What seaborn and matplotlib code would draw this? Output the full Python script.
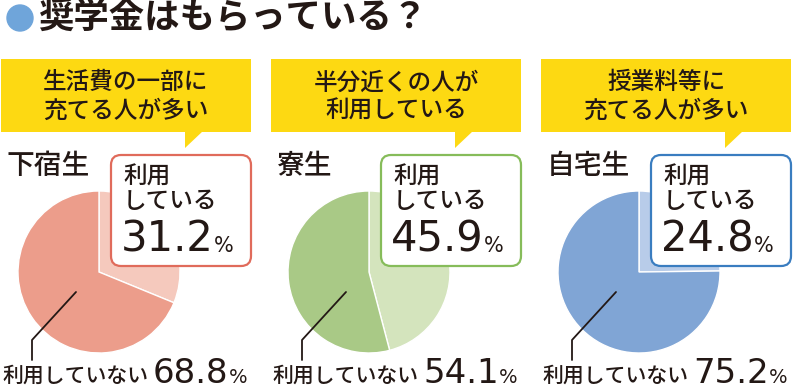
import matplotlib
matplotlib.use("Agg")
import matplotlib.pyplot as plt
from matplotlib.patches import FancyBboxPatch, Polygon, Circle, Rectangle
import seaborn as sns

# データ
groups = ["下宿生", "寮生", "自宅生"]
used = [31.2, 45.9, 24.8]
not_used = [68.8, 54.1, 75.2]
notes = ["生活費の一部に\n充てる人が多い", "半分近くの人が\n利用している", "授業料等に\n充てる人が多い"]
title = "奨学金はもらっている？"

dark_colors = ["#EC9D8B", "#A9C986", "#80A5D5"]
light_colors = ["#F5C9BD", "#D4E4BD", "#B8CCE9"]
border_colors = ["#E06B5B", "#86BC5A", "#3A7DC0"]
text_color = "#231815"
yellow = "#FDD912"

sns.set_style("white")
plt.rcParams['font.family'] = ['Noto Sans CJK JP', 'DejaVu Sans']
num_font = ['DejaVu Sans']

W, H = 793, 390
fig = plt.figure(figsize=(W / 100, H / 100), dpi=100)

# 円グラフ
r = 81
for i in range(3):
    cx, cy = 99 + 270 * i, 272
    ax = fig.add_axes([(cx - r) / W, (H - cy - r) / H, 2 * r / W, 2 * r / H])
    ax.pie([used[i], not_used[i]], colors=[light_colors[i], dark_colors[i]],
           startangle=90, counterclock=False, radius=1)
    ax.set_xlim(-1, 1)
    ax.set_ylim(-1, 1)
    ax.axis("off")

# 装飾用のオーバーレイ（ピクセル座標）
ov = fig.add_axes([0, 0, 1, 1])
ov.set_xlim(0, W)
ov.set_ylim(H, 0)
ov.axis("off")
ov.patch.set_alpha(0)

# タイトル
ov.add_patch(Circle((20, 18), 13, color="#6FA5DA"))
ov.text(38, 18, title, fontsize=25.5, fontweight="bold", color=text_color,
        va="center", ha="left")

for i in range(3):
    dx = 270 * i

    # 黄色の吹き出し
    ov.add_patch(Rectangle((1 + dx, 59), 250, 73, color=yellow, lw=0))
    ov.add_patch(Polygon([(185 + dx, 131), (203 + dx, 131), (185 + dx, 148)],
                         closed=True, color=yellow, lw=0))
    ov.text(126 + dx, 97, notes[i], fontsize=17, fontweight="medium",
            color=text_color, ha="center", va="center", linespacing=1.3)

    # 区分名
    ov.text(7 + dx, 166, groups[i], fontsize=20, fontweight="medium",
            color=text_color, ha="left", va="center")

    # 利用しているの枠
    ov.add_patch(FancyBboxPatch((111 + dx, 155), 140, 111,
                                boxstyle="round,pad=0,rounding_size=10",
                                fc="white", ec=border_colors[i], lw=1.6))
    ov.text(123 + dx, 177, "利用", fontsize=17, fontweight="medium",
            color=text_color, ha="left", va="center")
    ov.text(123 + dx, 202, "している", fontsize=17, fontweight="medium",
            color=text_color, ha="left", va="center")
    num = ov.text(121 + dx, 252, f"{used[i]:.1f}", fontsize=30, family=num_font,
                  color=text_color, ha="left", va="baseline")
    ov.annotate("%", xy=(1, 0), xycoords=num, xytext=(0, 3.5),
                textcoords="offset points", fontsize=15, family=num_font,
                color=text_color, ha="left", va="bottom")

    # 引き出し線
    ov.plot([76 + dx, 32 + dx, 32 + dx], [292, 340, 360], color=text_color, lw=1.3)

    # 利用していない
    ov.text(2 + dx, 376, "利用していない", fontsize=15, fontweight="medium",
            color=text_color, ha="left", va="center")
    num2 = ov.text(153 + dx, 383, f"{not_used[i]:.1f}", fontsize=24.5,
                   family=num_font, color=text_color, ha="left", va="baseline")
    ov.annotate("%", xy=(1, 0), xycoords=num2, xytext=(0, 2.5),
                textcoords="offset points", fontsize=14, family=num_font,
                color=text_color, ha="left", va="bottom")

fig.savefig("out.png", dpi=100)
